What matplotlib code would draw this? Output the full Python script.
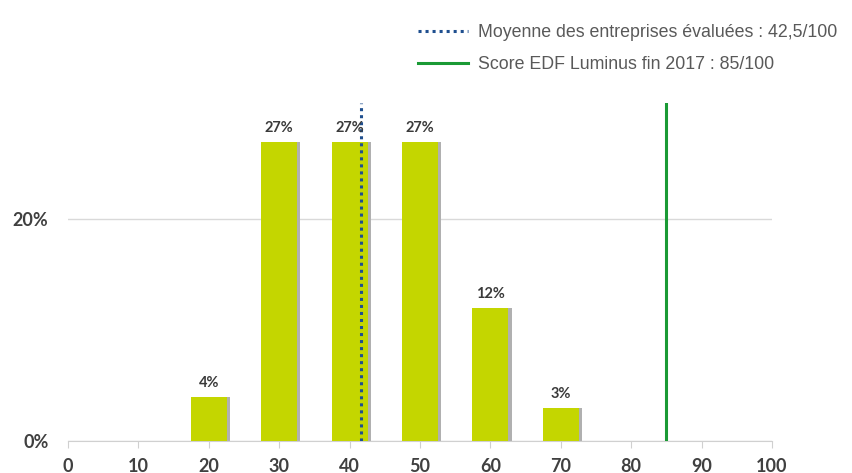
import matplotlib
matplotlib.use("Agg")
import matplotlib.pyplot as plt
from matplotlib.ticker import FuncFormatter, MultipleLocator

# score classes and share of companies (%)
scores = [20, 30, 40, 50, 60, 70]
shares = [4, 27, 27, 27, 12, 3]
share_labels = ["4%", "27%", "27%", "27%", "12%", "3%"]
mean_score = 41.6      # drawn position of the 42,5/100 line in the picture
edf_score = 85
x_ticks = [0, 10, 20, 30, 40, 50, 60, 70, 80, 90, 100]
mean_label = "Moyenne des entreprises évaluées : 42,5/100"
edf_label = "Score EDF Luminus fin 2017 : 85/100"

bar_col = "#c4d600"
txt_col = "#404040"

fig = plt.figure(figsize=(8.53, 4.73), dpi=100)
ax = fig.add_axes([68/853, 1-441/473, 704/853, 338/473])

# soft shadow then bars
ax.bar([s + 0.45 for s in scores], shares, width=5.1, color="#b0b0b0", zorder=2)
ax.bar(scores, shares, width=5.1, color=bar_col, zorder=3)
for s, v, lab in zip(scores, shares, share_labels):
    ax.text(s, v + 0.6, lab, ha="center", va="bottom", fontsize=10.5,
            fontweight="bold", color="#3a3a3a", family="Lato", zorder=5)

ax.set_xlim(0, 100)
ax.set_ylim(0, 30.5)
l1, = ax.plot([mean_score, mean_score], [0, 30.5], color="#1f4f8f", lw=2.2,
              ls=(0, (1, 1.3)), zorder=4)
l2, = ax.plot([edf_score, edf_score], [0, 30.5], color="#1a9a35", lw=2.2, zorder=4)

ax.yaxis.set_major_locator(MultipleLocator(20))
ax.yaxis.set_major_formatter(FuncFormatter(lambda v, p: "%d%%" % v))
ax.set_xticks(x_ticks)
ax.grid(axis="y", color="#d9d9d9", lw=1, zorder=0)
for sp in ["top", "right", "left"]:
    ax.spines[sp].set_visible(False)
ax.spines["bottom"].set_color("#d0d0d0")
ax.tick_params(axis="y", length=0, pad=14, labelsize=13, labelcolor=txt_col)
ax.tick_params(axis="x", length=5, color="#d0d0d0", pad=7, labelsize=13,
               labelcolor=txt_col)
for t in ax.get_xticklabels() + ax.get_yticklabels():
    t.set_family("Lato")
    t.set_fontweight("bold")

leg = ax.legend([l1, l2], [mean_label, edf_label], loc="upper left",
                bbox_to_anchor=(418/853, 1-24/473), bbox_transform=fig.transFigure,
                frameon=False, handlelength=2.8, handletextpad=0.55,
                labelspacing=0.85, borderpad=0, borderaxespad=0,
                prop={"family": "Liberation Sans", "size": 12.8})
for t in leg.get_texts():
    t.set_color("#595959")

fig.savefig("out.png", dpi=100)
